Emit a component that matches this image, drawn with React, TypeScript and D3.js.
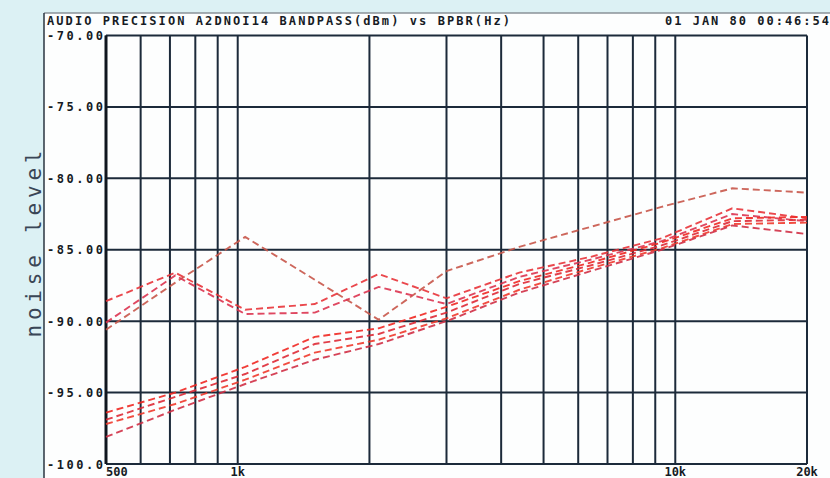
import React from 'react';
import * as d3 from 'd3';

const freqs = [500, 720, 1040, 1500, 2100, 3000, 4400, 6400, 9300, 13500, 20000];

const seriesU1 = [-90.6, -87.3, -84.1, -87.1, -89.9, -86.5, -84.8, -83.4, -82.0, -80.7, -81.0];
const seriesU2 = [-88.6, -86.6, -89.2, -88.8, -86.7, -88.4, -86.6, -85.5, -84.2, -82.1, -82.8];
const seriesU3 = [-90.1, -86.8, -89.5, -89.4, -87.6, -88.8, -86.9, -85.7, -84.4, -82.5, -83.0];
const seriesL1 = [-96.4, -95.0, -93.2, -91.1, -90.5, -89.0, -87.2, -85.9, -84.5, -82.8, -82.7];
const seriesL2 = [-96.9, -95.3, -93.7, -91.6, -90.9, -89.4, -87.4, -86.1, -84.7, -83.0, -82.9];
const seriesL3 = [-97.2, -95.8, -94.1, -92.2, -91.3, -89.8, -87.8, -86.3, -84.9, -83.2, -83.1];
const seriesL4 = [-98.1, -96.2, -94.4, -92.7, -91.6, -90.0, -88.0, -86.5, -85.0, -83.3, -83.9];

const allSeries = [seriesU1, seriesU2, seriesU3, seriesL1, seriesL2, seriesL3, seriesL4];
const seriesColors = ['#c8564a', '#e8343a', '#dc3450', '#f02822', '#de2a36', '#f03a2c', '#d03046'];

const gridFreqs = [500, 600, 700, 800, 900, 1000, 2000, 3000, 4000, 5000, 6000, 7000, 8000, 9000, 10000, 20000];
const yTicks = [-70, -75, -80, -85, -90, -95, -100];
const yTickLabels = ['-70.00', '-75.00', '-80.00', '-85.00', '-90.00', '-95.00', '-100.0'];
const xTickValues = [500, 1000, 10000, 20000];
const xTickLabels = ['500', '1k', '10k', '20k'];

const titleLeft = 'AUDIO PRECISION A2DNOI14 BANDPASS(dBm) vs BPBR(Hz)';
const titleRight = '01 JAN 80 00:46:54';
const yTitle = 'noise level';

const W = 830;
const H = 478;
const mono = '"DejaVu Sans Mono", "Liberation Mono", monospace';

export default function App() {
  const x = d3.scaleLog().domain([500, 20000]).range([106, 807]);
  const y = d3.scaleLinear().domain([-100, -70]).range([464, 35.5]);

  const line = d3
    .line<number>()
    .x((_, i) => x(freqs[i]))
    .y((d) => y(d));

  const gridColor = '#1c2a3a';
  const ink = '#161b24';

  return (
    <svg
      width={W}
      height={H}
      style={{ position: 'absolute', left: 0, top: 0 }}
      fontFamily={mono}
    >
      <rect x={0} y={0} width={W} height={H} fill="#dcf1f4" />
      <rect x={44} y={13} width={W - 44} height={H - 13} fill="#fdfefe" />
      <line x1={44} x2={W} y1={13} y2={13} stroke="#8a9298" strokeWidth={1.5} />
      <line x1={44} x2={44} y1={13} y2={H} stroke="#2a3440" strokeWidth={1.5} />

      {/* title row */}
      <text x={47} y={25} fontSize={12} fontWeight="bold" fill={ink} textLength={463} lengthAdjust="spacing">
        {titleLeft}
      </text>
      <text x={665} y={25} fontSize={12} fontWeight="bold" fill={ink} textLength={164} lengthAdjust="spacing">
        {titleRight}
      </text>

      {/* grid */}
      {yTicks.map((t) => (
        <line key={'h' + t} x1={x(500)} x2={x(20000)} y1={y(t)} y2={y(t)} stroke={gridColor} strokeWidth={2} />
      ))}
      {gridFreqs.map((f) => (
        <line key={'v' + f} x1={x(f)} x2={x(f)} y1={y(-70)} y2={y(-100)} stroke={gridColor} strokeWidth={2} />
      ))}
      <line x1={x(500)} x2={x(500)} y1={y(-70)} y2={y(-100)} stroke="#10161e" strokeWidth={3} />

      {/* y tick labels */}
      {yTicks.map((t, i) => (
        <text
          key={'yl' + t}
          x={47}
          y={Math.max(y(t) + 4.5, 38)}
          fontSize={12}
          fontWeight="bold"
          fill={ink}
          textLength={56}
          lengthAdjust="spacing"
        >
          {yTickLabels[i]}
        </text>
      ))}

      {/* x tick labels */}
      {xTickValues.map((f, i) => (
        <text
          key={'xl' + f}
          x={x(f)}
          y={476}
          fontSize={12}
          fontWeight="bold"
          fill={ink}
          textAnchor={i === 0 ? 'start' : 'middle'}
        >
          {xTickLabels[i]}
        </text>
      ))}

      {/* y axis title */}
      <text
        transform="translate(41,244) rotate(-90)"
        textAnchor="middle"
        fontSize={21}
        fill="#3a4656"
        textLength={187}
        lengthAdjust="spacing"
      >
        {yTitle}
      </text>

      {/* series */}
      {allSeries.map((s, i) => (
        <path
          key={'s' + i}
          d={line(s) || ''}
          fill="none"
          stroke={seriesColors[i]}
          strokeWidth={1.9}
          strokeDasharray="7 4"
          strokeOpacity={0.9}
        />
      ))}
    </svg>
  );
}
